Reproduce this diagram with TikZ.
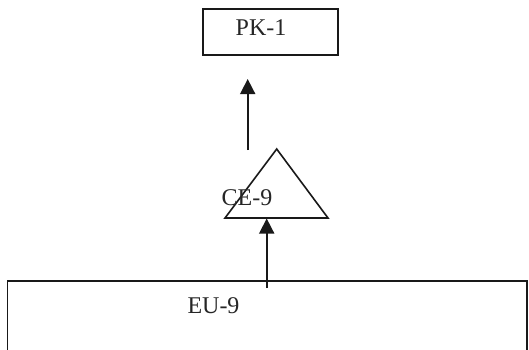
\documentclass[tikz,border=0pt]{standalone}
\usepackage{fontspec}
\setmainfont{Liberation Serif}
\usetikzlibrary{arrows.meta}
\begin{document}
\begin{tikzpicture}[x=1pt,y=-1pt,
  boxline/.style={draw=black!90, line width=1.6pt},
  lbl/.style={font=\fontsize{24}{28}\selectfont, anchor=base, inner sep=0pt, text=black!85},
  uparrow/.style={draw=black!90, line width=1.6pt, -{Triangle[width=15pt,length=15pt]}}]
  \useasboundingbox (0,0) rectangle (529,349);
  \clip (0,0) rectangle (529,349);
  \fill[white] (0,0) rectangle (529,349);

  % top box
  \node[boxline, minimum width=135pt, minimum height=46pt, inner sep=0pt] (pk) at (270.5,32) {};
  \node[lbl] (pktext) at (261,35) {PK-1};

  % triangle
  \coordinate (ceapex) at (276.7,149);
  \coordinate (celeft) at (225,218);
  \coordinate (ceright) at (328,218);
  \draw[boxline, line join=miter] (ceapex) -- (ceright) -- (celeft) -- cycle;
  \node[lbl] (cetext) at (247,205) {CE-9};

  % bottom box, running past the lower edge
  \coordinate (eutl) at (7.5,281);
  \coordinate (eubr) at (527,360);
  \draw[boxline] (eutl) rectangle (eubr);
  \node[lbl] (eutext) at (213.5,313) {EU-9};

  % connectors
  \coordinate (a1start) at (247.7,150);
  \coordinate (a1end) at (247.7,79);
  \draw[uparrow] (a1start) -- (a1end);
  \coordinate (a2start) at (266.7,288);
  \coordinate (a2end) at (266.7,218.5);
  \draw[uparrow] (a2start) -- (a2end);
\end{tikzpicture}
\end{document}
